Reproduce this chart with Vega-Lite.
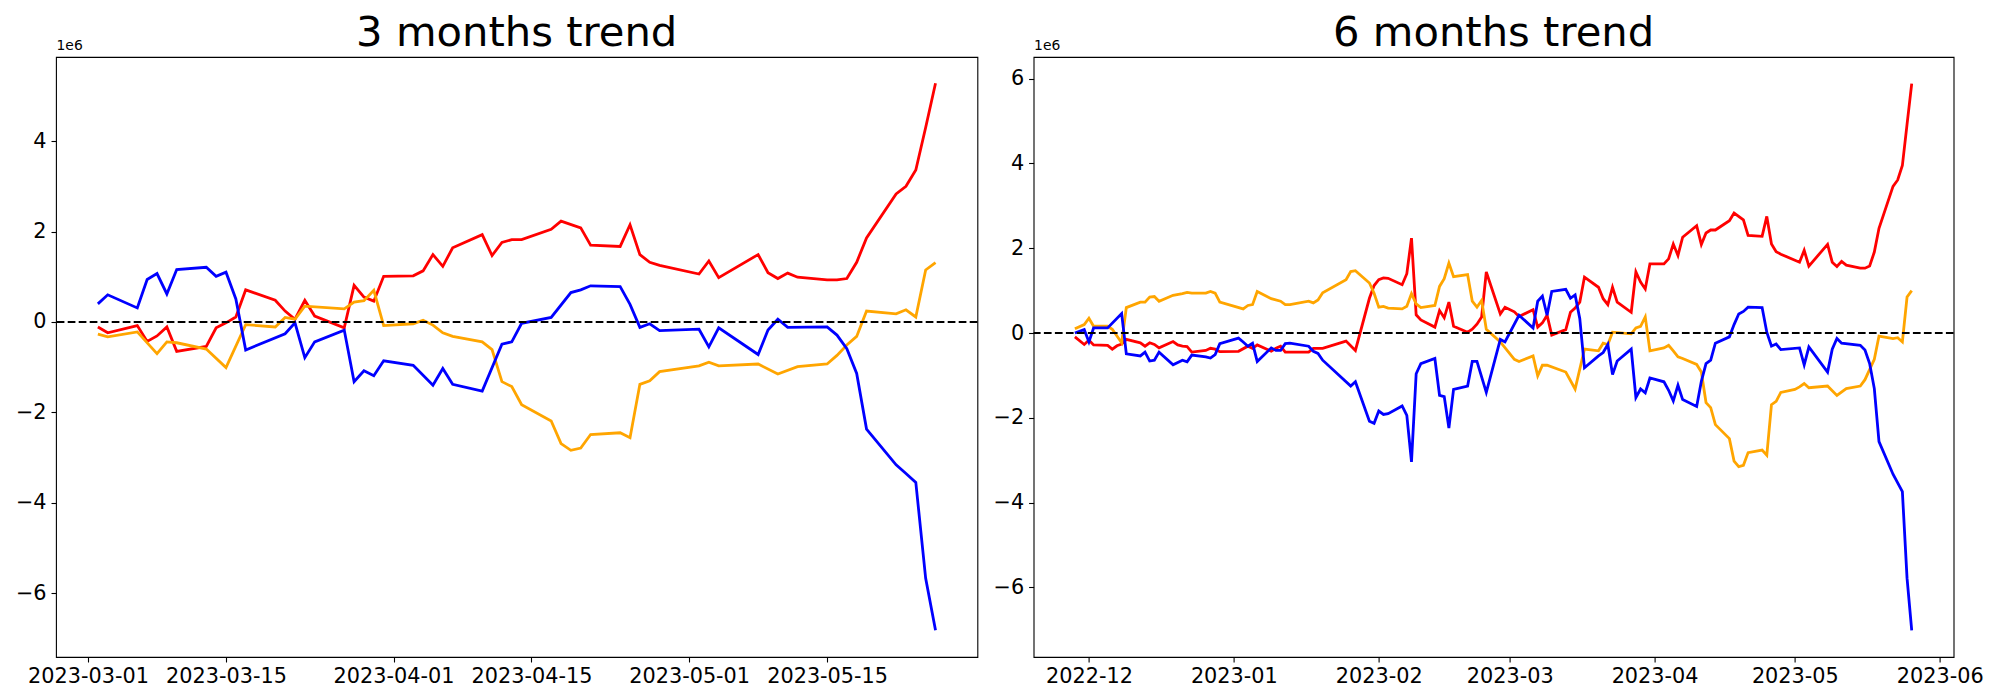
{
"$schema": "https://vega.github.io/schema/vega-lite/v6.json",
"padding": {"left": 14, "top": 12, "right": 5, "bottom": 5},
"bounds": "flush",
"spacing": 55.6,
"datasets": {
"m3": [
{"d":"2023-03-02","s":"s1","v":-110000},{"d":"2023-03-03","s":"s1","v":-240000},{"d":"2023-03-06","s":"s1","v":-80000},{"d":"2023-03-07","s":"s1","v":-430000},{"d":"2023-03-08","s":"s1","v":-310000},{"d":"2023-03-09","s":"s1","v":-110000},{"d":"2023-03-10","s":"s1","v":-650000},{"d":"2023-03-13","s":"s1","v":-540000},{"d":"2023-03-14","s":"s1","v":-130000},{"d":"2023-03-15","s":"s1","v":-20000},{"d":"2023-03-16","s":"s1","v":110000},{"d":"2023-03-17","s":"s1","v":710000},{"d":"2023-03-20","s":"s1","v":480000},{"d":"2023-03-21","s":"s1","v":240000},{"d":"2023-03-22","s":"s1","v":60000},{"d":"2023-03-23","s":"s1","v":480000},{"d":"2023-03-24","s":"s1","v":130000},{"d":"2023-03-27","s":"s1","v":-130000},{"d":"2023-03-28","s":"s1","v":810000},{"d":"2023-03-29","s":"s1","v":550000},{"d":"2023-03-30","s":"s1","v":460000},{"d":"2023-03-31","s":"s1","v":1010000},{"d":"2023-04-03","s":"s1","v":1020000},{"d":"2023-04-04","s":"s1","v":1130000},{"d":"2023-04-05","s":"s1","v":1490000},{"d":"2023-04-06","s":"s1","v":1230000},{"d":"2023-04-07","s":"s1","v":1640000},{"d":"2023-04-10","s":"s1","v":1930000},{"d":"2023-04-11","s":"s1","v":1470000},{"d":"2023-04-12","s":"s1","v":1760000},{"d":"2023-04-13","s":"s1","v":1820000},{"d":"2023-04-14","s":"s1","v":1820000},{"d":"2023-04-17","s":"s1","v":2050000},{"d":"2023-04-18","s":"s1","v":2230000},{"d":"2023-04-20","s":"s1","v":2080000},{"d":"2023-04-21","s":"s1","v":1700000},{"d":"2023-04-24","s":"s1","v":1670000},{"d":"2023-04-25","s":"s1","v":2150000},{"d":"2023-04-26","s":"s1","v":1490000},{"d":"2023-04-27","s":"s1","v":1320000},{"d":"2023-04-28","s":"s1","v":1250000},{"d":"2023-05-02","s":"s1","v":1060000},{"d":"2023-05-03","s":"s1","v":1350000},{"d":"2023-05-04","s":"s1","v":980000},{"d":"2023-05-08","s":"s1","v":1490000},{"d":"2023-05-09","s":"s1","v":1090000},{"d":"2023-05-10","s":"s1","v":960000},{"d":"2023-05-11","s":"s1","v":1080000},{"d":"2023-05-12","s":"s1","v":990000},{"d":"2023-05-15","s":"s1","v":930000},{"d":"2023-05-16","s":"s1","v":930000},{"d":"2023-05-17","s":"s1","v":960000},{"d":"2023-05-18","s":"s1","v":1320000},{"d":"2023-05-19","s":"s1","v":1860000},{"d":"2023-05-22","s":"s1","v":2830000},{"d":"2023-05-23","s":"s1","v":3000000},{"d":"2023-05-24","s":"s1","v":3360000},{"d":"2023-05-25","s":"s1","v":4300000},{"d":"2023-05-26","s":"s1","v":5280000},
{"d":"2023-03-02","s":"s2","v":-270000},{"d":"2023-03-03","s":"s2","v":-330000},{"d":"2023-03-06","s":"s2","v":-220000},{"d":"2023-03-08","s":"s2","v":-700000},{"d":"2023-03-09","s":"s2","v":-440000},{"d":"2023-03-10","s":"s2","v":-460000},{"d":"2023-03-13","s":"s2","v":-600000},{"d":"2023-03-15","s":"s2","v":-1010000},{"d":"2023-03-17","s":"s2","v":-60000},{"d":"2023-03-20","s":"s2","v":-110000},{"d":"2023-03-21","s":"s2","v":100000},{"d":"2023-03-22","s":"s2","v":60000},{"d":"2023-03-23","s":"s2","v":350000},{"d":"2023-03-27","s":"s2","v":290000},{"d":"2023-03-28","s":"s2","v":440000},{"d":"2023-03-29","s":"s2","v":470000},{"d":"2023-03-30","s":"s2","v":700000},{"d":"2023-03-31","s":"s2","v":-80000},{"d":"2023-04-03","s":"s2","v":-40000},{"d":"2023-04-04","s":"s2","v":40000},{"d":"2023-04-05","s":"s2","v":-70000},{"d":"2023-04-06","s":"s2","v":-240000},{"d":"2023-04-07","s":"s2","v":-320000},{"d":"2023-04-10","s":"s2","v":-440000},{"d":"2023-04-11","s":"s2","v":-610000},{"d":"2023-04-12","s":"s2","v":-1320000},{"d":"2023-04-13","s":"s2","v":-1430000},{"d":"2023-04-14","s":"s2","v":-1830000},{"d":"2023-04-17","s":"s2","v":-2190000},{"d":"2023-04-18","s":"s2","v":-2690000},{"d":"2023-04-19","s":"s2","v":-2840000},{"d":"2023-04-20","s":"s2","v":-2790000},{"d":"2023-04-21","s":"s2","v":-2490000},{"d":"2023-04-24","s":"s2","v":-2450000},{"d":"2023-04-25","s":"s2","v":-2560000},{"d":"2023-04-26","s":"s2","v":-1380000},{"d":"2023-04-27","s":"s2","v":-1300000},{"d":"2023-04-28","s":"s2","v":-1100000},{"d":"2023-05-02","s":"s2","v":-970000},{"d":"2023-05-03","s":"s2","v":-890000},{"d":"2023-05-04","s":"s2","v":-970000},{"d":"2023-05-08","s":"s2","v":-930000},{"d":"2023-05-10","s":"s2","v":-1150000},{"d":"2023-05-12","s":"s2","v":-990000},{"d":"2023-05-15","s":"s2","v":-930000},{"d":"2023-05-16","s":"s2","v":-740000},{"d":"2023-05-17","s":"s2","v":-510000},{"d":"2023-05-18","s":"s2","v":-320000},{"d":"2023-05-19","s":"s2","v":240000},{"d":"2023-05-22","s":"s2","v":180000},{"d":"2023-05-23","s":"s2","v":270000},{"d":"2023-05-24","s":"s2","v":110000},{"d":"2023-05-25","s":"s2","v":1150000},{"d":"2023-05-26","s":"s2","v":1310000},
{"d":"2023-03-02","s":"s3","v":400000},{"d":"2023-03-03","s":"s3","v":600000},{"d":"2023-03-06","s":"s3","v":310000},{"d":"2023-03-07","s":"s3","v":940000},{"d":"2023-03-08","s":"s3","v":1070000},{"d":"2023-03-09","s":"s3","v":620000},{"d":"2023-03-10","s":"s3","v":1160000},{"d":"2023-03-13","s":"s3","v":1210000},{"d":"2023-03-14","s":"s3","v":1010000},{"d":"2023-03-15","s":"s3","v":1100000},{"d":"2023-03-16","s":"s3","v":510000},{"d":"2023-03-17","s":"s3","v":-620000},{"d":"2023-03-21","s":"s3","v":-260000},{"d":"2023-03-22","s":"s3","v":-20000},{"d":"2023-03-23","s":"s3","v":-790000},{"d":"2023-03-24","s":"s3","v":-440000},{"d":"2023-03-27","s":"s3","v":-180000},{"d":"2023-03-28","s":"s3","v":-1320000},{"d":"2023-03-29","s":"s3","v":-1080000},{"d":"2023-03-30","s":"s3","v":-1190000},{"d":"2023-03-31","s":"s3","v":-860000},{"d":"2023-04-03","s":"s3","v":-960000},{"d":"2023-04-05","s":"s3","v":-1400000},{"d":"2023-04-06","s":"s3","v":-1030000},{"d":"2023-04-07","s":"s3","v":-1380000},{"d":"2023-04-10","s":"s3","v":-1530000},{"d":"2023-04-12","s":"s3","v":-490000},{"d":"2023-04-13","s":"s3","v":-440000},{"d":"2023-04-14","s":"s3","v":-30000},{"d":"2023-04-17","s":"s3","v":100000},{"d":"2023-04-19","s":"s3","v":650000},{"d":"2023-04-20","s":"s3","v":710000},{"d":"2023-04-21","s":"s3","v":800000},{"d":"2023-04-24","s":"s3","v":780000},{"d":"2023-04-25","s":"s3","v":390000},{"d":"2023-04-26","s":"s3","v":-120000},{"d":"2023-04-27","s":"s3","v":-40000},{"d":"2023-04-28","s":"s3","v":-190000},{"d":"2023-05-02","s":"s3","v":-160000},{"d":"2023-05-03","s":"s3","v":-550000},{"d":"2023-05-04","s":"s3","v":-130000},{"d":"2023-05-08","s":"s3","v":-720000},{"d":"2023-05-09","s":"s3","v":-180000},{"d":"2023-05-10","s":"s3","v":60000},{"d":"2023-05-11","s":"s3","v":-120000},{"d":"2023-05-15","s":"s3","v":-110000},{"d":"2023-05-16","s":"s3","v":-290000},{"d":"2023-05-17","s":"s3","v":-590000},{"d":"2023-05-18","s":"s3","v":-1140000},{"d":"2023-05-19","s":"s3","v":-2370000},{"d":"2023-05-22","s":"s3","v":-3160000},{"d":"2023-05-23","s":"s3","v":-3350000},{"d":"2023-05-24","s":"s3","v":-3550000},{"d":"2023-05-25","s":"s3","v":-5670000},{"d":"2023-05-26","s":"s3","v":-6820000}
],
"m6": [
{"d":"2022-11-28","s":"s1","v":-90000},{"d":"2022-11-30","s":"s1","v":-270000},{"d":"2022-12-01","s":"s1","v":-170000},{"d":"2022-12-02","s":"s1","v":-280000},{"d":"2022-12-05","s":"s1","v":-290000},{"d":"2022-12-06","s":"s1","v":-380000},{"d":"2022-12-07","s":"s1","v":-300000},{"d":"2022-12-08","s":"s1","v":-260000},{"d":"2022-12-09","s":"s1","v":-150000},{"d":"2022-12-12","s":"s1","v":-230000},{"d":"2022-12-13","s":"s1","v":-310000},{"d":"2022-12-14","s":"s1","v":-230000},{"d":"2022-12-15","s":"s1","v":-270000},{"d":"2022-12-16","s":"s1","v":-350000},{"d":"2022-12-19","s":"s1","v":-200000},{"d":"2022-12-20","s":"s1","v":-280000},{"d":"2022-12-21","s":"s1","v":-310000},{"d":"2022-12-22","s":"s1","v":-320000},{"d":"2022-12-23","s":"s1","v":-450000},{"d":"2022-12-26","s":"s1","v":-410000},{"d":"2022-12-27","s":"s1","v":-360000},{"d":"2022-12-28","s":"s1","v":-380000},{"d":"2022-12-29","s":"s1","v":-440000},{"d":"2023-01-02","s":"s1","v":-430000},{"d":"2023-01-04","s":"s1","v":-310000},{"d":"2023-01-05","s":"s1","v":-360000},{"d":"2023-01-06","s":"s1","v":-280000},{"d":"2023-01-09","s":"s1","v":-430000},{"d":"2023-01-10","s":"s1","v":-360000},{"d":"2023-01-11","s":"s1","v":-310000},{"d":"2023-01-12","s":"s1","v":-450000},{"d":"2023-01-17","s":"s1","v":-450000},{"d":"2023-01-18","s":"s1","v":-360000},{"d":"2023-01-20","s":"s1","v":-360000},{"d":"2023-01-25","s":"s1","v":-190000},{"d":"2023-01-27","s":"s1","v":-410000},{"d":"2023-01-30","s":"s1","v":820000},{"d":"2023-01-31","s":"s1","v":1120000},{"d":"2023-02-01","s":"s1","v":1260000},{"d":"2023-02-02","s":"s1","v":1300000},{"d":"2023-02-03","s":"s1","v":1290000},{"d":"2023-02-06","s":"s1","v":1140000},{"d":"2023-02-07","s":"s1","v":1400000},{"d":"2023-02-08","s":"s1","v":2240000},{"d":"2023-02-09","s":"s1","v":430000},{"d":"2023-02-10","s":"s1","v":310000},{"d":"2023-02-13","s":"s1","v":140000},{"d":"2023-02-14","s":"s1","v":530000},{"d":"2023-02-15","s":"s1","v":360000},{"d":"2023-02-16","s":"s1","v":730000},{"d":"2023-02-17","s":"s1","v":160000},{"d":"2023-02-20","s":"s1","v":20000},{"d":"2023-02-21","s":"s1","v":90000},{"d":"2023-02-22","s":"s1","v":210000},{"d":"2023-02-23","s":"s1","v":380000},{"d":"2023-02-24","s":"s1","v":1440000},{"d":"2023-02-27","s":"s1","v":450000},{"d":"2023-02-28","s":"s1","v":610000},{"d":"2023-03-02","s":"s1","v":500000},{"d":"2023-03-03","s":"s1","v":390000},{"d":"2023-03-06","s":"s1","v":550000},{"d":"2023-03-07","s":"s1","v":140000},{"d":"2023-03-08","s":"s1","v":240000},{"d":"2023-03-09","s":"s1","v":420000},{"d":"2023-03-10","s":"s1","v":-50000},{"d":"2023-03-13","s":"s1","v":80000},{"d":"2023-03-14","s":"s1","v":490000},{"d":"2023-03-15","s":"s1","v":590000},{"d":"2023-03-16","s":"s1","v":730000},{"d":"2023-03-17","s":"s1","v":1320000},{"d":"2023-03-20","s":"s1","v":1080000},{"d":"2023-03-21","s":"s1","v":810000},{"d":"2023-03-22","s":"s1","v":670000},{"d":"2023-03-23","s":"s1","v":1080000},{"d":"2023-03-24","s":"s1","v":730000},{"d":"2023-03-27","s":"s1","v":490000},{"d":"2023-03-28","s":"s1","v":1440000},{"d":"2023-03-29","s":"s1","v":1200000},{"d":"2023-03-30","s":"s1","v":1040000},{"d":"2023-03-31","s":"s1","v":1630000},{"d":"2023-04-03","s":"s1","v":1630000},{"d":"2023-04-04","s":"s1","v":1750000},{"d":"2023-04-05","s":"s1","v":2100000},{"d":"2023-04-06","s":"s1","v":1830000},{"d":"2023-04-07","s":"s1","v":2260000},{"d":"2023-04-10","s":"s1","v":2530000},{"d":"2023-04-11","s":"s1","v":2090000},{"d":"2023-04-12","s":"s1","v":2360000},{"d":"2023-04-13","s":"s1","v":2430000},{"d":"2023-04-14","s":"s1","v":2430000},{"d":"2023-04-17","s":"s1","v":2650000},{"d":"2023-04-18","s":"s1","v":2830000},{"d":"2023-04-20","s":"s1","v":2670000},{"d":"2023-04-21","s":"s1","v":2300000},{"d":"2023-04-24","s":"s1","v":2280000},{"d":"2023-04-25","s":"s1","v":2750000},{"d":"2023-04-26","s":"s1","v":2100000},{"d":"2023-04-27","s":"s1","v":1920000},{"d":"2023-04-28","s":"s1","v":1860000},{"d":"2023-05-02","s":"s1","v":1670000},{"d":"2023-05-03","s":"s1","v":1950000},{"d":"2023-05-04","s":"s1","v":1580000},{"d":"2023-05-08","s":"s1","v":2090000},{"d":"2023-05-09","s":"s1","v":1670000},{"d":"2023-05-10","s":"s1","v":1570000},{"d":"2023-05-11","s":"s1","v":1690000},{"d":"2023-05-12","s":"s1","v":1600000},{"d":"2023-05-15","s":"s1","v":1530000},{"d":"2023-05-16","s":"s1","v":1530000},{"d":"2023-05-17","s":"s1","v":1580000},{"d":"2023-05-18","s":"s1","v":1910000},{"d":"2023-05-19","s":"s1","v":2470000},{"d":"2023-05-22","s":"s1","v":3460000},{"d":"2023-05-23","s":"s1","v":3610000},{"d":"2023-05-24","s":"s1","v":3950000},{"d":"2023-05-25","s":"s1","v":4920000},{"d":"2023-05-26","s":"s1","v":5880000},
{"d":"2022-11-28","s":"s2","v":100000},{"d":"2022-11-30","s":"s2","v":200000},{"d":"2022-12-01","s":"s2","v":350000},{"d":"2022-12-02","s":"s2","v":160000},{"d":"2022-12-05","s":"s2","v":160000},{"d":"2022-12-06","s":"s2","v":90000},{"d":"2022-12-08","s":"s2","v":-230000},{"d":"2022-12-09","s":"s2","v":600000},{"d":"2022-12-12","s":"s2","v":730000},{"d":"2022-12-13","s":"s2","v":730000},{"d":"2022-12-14","s":"s2","v":850000},{"d":"2022-12-15","s":"s2","v":860000},{"d":"2022-12-16","s":"s2","v":750000},{"d":"2022-12-19","s":"s2","v":890000},{"d":"2022-12-21","s":"s2","v":930000},{"d":"2022-12-22","s":"s2","v":960000},{"d":"2022-12-23","s":"s2","v":940000},{"d":"2022-12-26","s":"s2","v":940000},{"d":"2022-12-27","s":"s2","v":980000},{"d":"2022-12-28","s":"s2","v":940000},{"d":"2022-12-29","s":"s2","v":730000},{"d":"2023-01-03","s":"s2","v":570000},{"d":"2023-01-04","s":"s2","v":650000},{"d":"2023-01-05","s":"s2","v":670000},{"d":"2023-01-06","s":"s2","v":980000},{"d":"2023-01-09","s":"s2","v":810000},{"d":"2023-01-11","s":"s2","v":750000},{"d":"2023-01-12","s":"s2","v":670000},{"d":"2023-01-13","s":"s2","v":670000},{"d":"2023-01-17","s":"s2","v":750000},{"d":"2023-01-18","s":"s2","v":710000},{"d":"2023-01-19","s":"s2","v":780000},{"d":"2023-01-20","s":"s2","v":950000},{"d":"2023-01-25","s":"s2","v":1260000},{"d":"2023-01-26","s":"s2","v":1450000},{"d":"2023-01-27","s":"s2","v":1470000},{"d":"2023-01-30","s":"s2","v":1180000},{"d":"2023-01-31","s":"s2","v":940000},{"d":"2023-02-01","s":"s2","v":610000},{"d":"2023-02-02","s":"s2","v":630000},{"d":"2023-02-03","s":"s2","v":590000},{"d":"2023-02-06","s":"s2","v":570000},{"d":"2023-02-07","s":"s2","v":630000},{"d":"2023-02-08","s":"s2","v":930000},{"d":"2023-02-09","s":"s2","v":690000},{"d":"2023-02-10","s":"s2","v":600000},{"d":"2023-02-13","s":"s2","v":650000},{"d":"2023-02-14","s":"s2","v":1100000},{"d":"2023-02-15","s":"s2","v":1280000},{"d":"2023-02-16","s":"s2","v":1650000},{"d":"2023-02-17","s":"s2","v":1330000},{"d":"2023-02-20","s":"s2","v":1380000},{"d":"2023-02-21","s":"s2","v":750000},{"d":"2023-02-22","s":"s2","v":610000},{"d":"2023-02-23","s":"s2","v":770000},{"d":"2023-02-24","s":"s2","v":90000},{"d":"2023-02-27","s":"s2","v":-210000},{"d":"2023-03-02","s":"s2","v":-620000},{"d":"2023-03-03","s":"s2","v":-670000},{"d":"2023-03-06","s":"s2","v":-540000},{"d":"2023-03-07","s":"s2","v":-1010000},{"d":"2023-03-08","s":"s2","v":-760000},{"d":"2023-03-09","s":"s2","v":-760000},{"d":"2023-03-13","s":"s2","v":-920000},{"d":"2023-03-15","s":"s2","v":-1320000},{"d":"2023-03-17","s":"s2","v":-380000},{"d":"2023-03-20","s":"s2","v":-420000},{"d":"2023-03-21","s":"s2","v":-240000},{"d":"2023-03-22","s":"s2","v":-270000},{"d":"2023-03-23","s":"s2","v":20000},{"d":"2023-03-27","s":"s2","v":-20000},{"d":"2023-03-28","s":"s2","v":120000},{"d":"2023-03-29","s":"s2","v":160000},{"d":"2023-03-30","s":"s2","v":380000},{"d":"2023-03-31","s":"s2","v":-420000},{"d":"2023-04-03","s":"s2","v":-350000},{"d":"2023-04-04","s":"s2","v":-290000},{"d":"2023-04-05","s":"s2","v":-420000},{"d":"2023-04-06","s":"s2","v":-560000},{"d":"2023-04-07","s":"s2","v":-600000},{"d":"2023-04-10","s":"s2","v":-740000},{"d":"2023-04-11","s":"s2","v":-920000},{"d":"2023-04-12","s":"s2","v":-1640000},{"d":"2023-04-13","s":"s2","v":-1760000},{"d":"2023-04-14","s":"s2","v":-2160000},{"d":"2023-04-17","s":"s2","v":-2490000},{"d":"2023-04-18","s":"s2","v":-3020000},{"d":"2023-04-19","s":"s2","v":-3150000},{"d":"2023-04-20","s":"s2","v":-3120000},{"d":"2023-04-21","s":"s2","v":-2820000},{"d":"2023-04-24","s":"s2","v":-2760000},{"d":"2023-04-25","s":"s2","v":-2880000},{"d":"2023-04-26","s":"s2","v":-1690000},{"d":"2023-04-27","s":"s2","v":-1610000},{"d":"2023-04-28","s":"s2","v":-1400000},{"d":"2023-05-01","s":"s2","v":-1330000},{"d":"2023-05-02","s":"s2","v":-1270000},{"d":"2023-05-03","s":"s2","v":-1190000},{"d":"2023-05-04","s":"s2","v":-1290000},{"d":"2023-05-08","s":"s2","v":-1250000},{"d":"2023-05-10","s":"s2","v":-1470000},{"d":"2023-05-12","s":"s2","v":-1310000},{"d":"2023-05-15","s":"s2","v":-1250000},{"d":"2023-05-16","s":"s2","v":-1100000},{"d":"2023-05-18","s":"s2","v":-620000},{"d":"2023-05-19","s":"s2","v":-70000},{"d":"2023-05-22","s":"s2","v":-130000},{"d":"2023-05-23","s":"s2","v":-110000},{"d":"2023-05-24","s":"s2","v":-210000},{"d":"2023-05-25","s":"s2","v":850000},{"d":"2023-05-26","s":"s2","v":1000000},
{"d":"2022-11-28","s":"s3","v":0},{"d":"2022-11-30","s":"s3","v":80000},{"d":"2022-12-01","s":"s3","v":-210000},{"d":"2022-12-02","s":"s3","v":120000},{"d":"2022-12-05","s":"s3","v":120000},{"d":"2022-12-08","s":"s3","v":460000},{"d":"2022-12-09","s":"s3","v":-490000},{"d":"2022-12-12","s":"s3","v":-540000},{"d":"2022-12-13","s":"s3","v":-450000},{"d":"2022-12-14","s":"s3","v":-660000},{"d":"2022-12-15","s":"s3","v":-640000},{"d":"2022-12-16","s":"s3","v":-450000},{"d":"2022-12-19","s":"s3","v":-750000},{"d":"2022-12-21","s":"s3","v":-640000},{"d":"2022-12-22","s":"s3","v":-680000},{"d":"2022-12-23","s":"s3","v":-520000},{"d":"2022-12-26","s":"s3","v":-560000},{"d":"2022-12-27","s":"s3","v":-590000},{"d":"2022-12-28","s":"s3","v":-510000},{"d":"2022-12-29","s":"s3","v":-250000},{"d":"2023-01-02","s":"s3","v":-120000},{"d":"2023-01-03","s":"s3","v":-210000},{"d":"2023-01-04","s":"s3","v":-310000},{"d":"2023-01-05","s":"s3","v":-240000},{"d":"2023-01-06","s":"s3","v":-670000},{"d":"2023-01-09","s":"s3","v":-350000},{"d":"2023-01-10","s":"s3","v":-410000},{"d":"2023-01-11","s":"s3","v":-410000},{"d":"2023-01-12","s":"s3","v":-250000},{"d":"2023-01-13","s":"s3","v":-240000},{"d":"2023-01-17","s":"s3","v":-310000},{"d":"2023-01-18","s":"s3","v":-430000},{"d":"2023-01-19","s":"s3","v":-480000},{"d":"2023-01-20","s":"s3","v":-640000},{"d":"2023-01-26","s":"s3","v":-1250000},{"d":"2023-01-27","s":"s3","v":-1150000},{"d":"2023-01-30","s":"s3","v":-2080000},{"d":"2023-01-31","s":"s3","v":-2130000},{"d":"2023-02-01","s":"s3","v":-1840000},{"d":"2023-02-02","s":"s3","v":-1920000},{"d":"2023-02-03","s":"s3","v":-1900000},{"d":"2023-02-06","s":"s3","v":-1720000},{"d":"2023-02-07","s":"s3","v":-1940000},{"d":"2023-02-08","s":"s3","v":-3040000},{"d":"2023-02-09","s":"s3","v":-960000},{"d":"2023-02-10","s":"s3","v":-720000},{"d":"2023-02-13","s":"s3","v":-600000},{"d":"2023-02-14","s":"s3","v":-1470000},{"d":"2023-02-15","s":"s3","v":-1500000},{"d":"2023-02-16","s":"s3","v":-2240000},{"d":"2023-02-17","s":"s3","v":-1330000},{"d":"2023-02-20","s":"s3","v":-1250000},{"d":"2023-02-21","s":"s3","v":-670000},{"d":"2023-02-22","s":"s3","v":-670000},{"d":"2023-02-24","s":"s3","v":-1400000},{"d":"2023-02-27","s":"s3","v":-150000},{"d":"2023-02-28","s":"s3","v":-210000},{"d":"2023-03-03","s":"s3","v":420000},{"d":"2023-03-06","s":"s3","v":120000},{"d":"2023-03-07","s":"s3","v":750000},{"d":"2023-03-08","s":"s3","v":870000},{"d":"2023-03-09","s":"s3","v":420000},{"d":"2023-03-10","s":"s3","v":980000},{"d":"2023-03-13","s":"s3","v":1030000},{"d":"2023-03-14","s":"s3","v":820000},{"d":"2023-03-15","s":"s3","v":900000},{"d":"2023-03-16","s":"s3","v":340000},{"d":"2023-03-17","s":"s3","v":-820000},{"d":"2023-03-20","s":"s3","v":-540000},{"d":"2023-03-21","s":"s3","v":-460000},{"d":"2023-03-22","s":"s3","v":-270000},{"d":"2023-03-23","s":"s3","v":-980000},{"d":"2023-03-24","s":"s3","v":-660000},{"d":"2023-03-27","s":"s3","v":-380000},{"d":"2023-03-28","s":"s3","v":-1520000},{"d":"2023-03-29","s":"s3","v":-1320000},{"d":"2023-03-30","s":"s3","v":-1410000},{"d":"2023-03-31","s":"s3","v":-1060000},{"d":"2023-04-03","s":"s3","v":-1150000},{"d":"2023-04-04","s":"s3","v":-1350000},{"d":"2023-04-05","s":"s3","v":-1600000},{"d":"2023-04-06","s":"s3","v":-1230000},{"d":"2023-04-07","s":"s3","v":-1570000},{"d":"2023-04-10","s":"s3","v":-1730000},{"d":"2023-04-11","s":"s3","v":-1140000},{"d":"2023-04-12","s":"s3","v":-720000},{"d":"2023-04-13","s":"s3","v":-640000},{"d":"2023-04-14","s":"s3","v":-240000},{"d":"2023-04-17","s":"s3","v":-90000},{"d":"2023-04-18","s":"s3","v":200000},{"d":"2023-04-19","s":"s3","v":450000},{"d":"2023-04-20","s":"s3","v":510000},{"d":"2023-04-21","s":"s3","v":610000},{"d":"2023-04-24","s":"s3","v":600000},{"d":"2023-04-25","s":"s3","v":20000},{"d":"2023-04-26","s":"s3","v":-310000},{"d":"2023-04-27","s":"s3","v":-260000},{"d":"2023-04-28","s":"s3","v":-390000},{"d":"2023-05-02","s":"s3","v":-350000},{"d":"2023-05-03","s":"s3","v":-750000},{"d":"2023-05-04","s":"s3","v":-330000},{"d":"2023-05-08","s":"s3","v":-920000},{"d":"2023-05-09","s":"s3","v":-380000},{"d":"2023-05-10","s":"s3","v":-130000},{"d":"2023-05-11","s":"s3","v":-240000},{"d":"2023-05-15","s":"s3","v":-290000},{"d":"2023-05-16","s":"s3","v":-400000},{"d":"2023-05-17","s":"s3","v":-720000},{"d":"2023-05-18","s":"s3","v":-1310000},{"d":"2023-05-19","s":"s3","v":-2560000},{"d":"2023-05-22","s":"s3","v":-3330000},{"d":"2023-05-24","s":"s3","v":-3740000},{"d":"2023-05-25","s":"s3","v":-5780000},{"d":"2023-05-26","s":"s3","v":-7010000}
]
},
"hconcat": [
{
"width": 921.4, "height": 600,
"title": {"text": "3 months trend", "offset": -17},
"layer": [
{"data": {"name": "m3"},
 "mark": {"type": "line", "strokeWidth": 2.8},
 "encoding": {
  "x": {"field": "d", "type": "temporal", "scale": {"type": "utc", "domain": [{"year": 2023, "month": 2, "date": 25, "hours": 18, "utc": true}, {"year": 2023, "month": 5, "date": 30, "hours": 6, "utc": true}], "nice": false},
   "axis": {"format": "%Y-%m-%d", "labelAlign": "center", "labelFlush": false, "values": [{"year": 2023, "month": 3, "date": 1, "utc": true}, {"year": 2023, "month": 3, "date": 15, "utc": true}, {"year": 2023, "month": 4, "date": 1, "utc": true}, {"year": 2023, "month": 4, "date": 15, "utc": true}, {"year": 2023, "month": 5, "date": 1, "utc": true}, {"year": 2023, "month": 5, "date": 15, "utc": true}]}},
  "y": {"field": "v", "type": "quantitative", "scale": {"domain": [-7410000, 5860000], "nice": false, "zero": false},
   "axis": {"title": "1e6", "values": [-6000000, -4000000, -2000000, 0, 2000000, 4000000], "labelExpr": "format(datum.value / 1000000, 'd')"}},
  "color": {"field": "s", "type": "nominal", "scale": {"domain": ["s1", "s2", "s3"], "range": ["#ff0000", "#ffa500", "#0000ff"]}, "legend": null}
 }},
{"data": {"values": [{}]},
 "mark": {"type": "rule", "color": "black", "strokeWidth": 2.1, "strokeDash": [7.7, 3.3]},
 "encoding": {"y": {"datum": 0}}}
]
},
{
"width": 920, "height": 600,
"title": {"text": "6 months trend", "offset": -17},
"layer": [
{"data": {"name": "m6"},
 "mark": {"type": "line", "strokeWidth": 2.8},
 "encoding": {
  "x": {"field": "d", "type": "temporal", "scale": {"type": "utc", "domain": [{"year": 2022, "month": 11, "date": 19, "hours": 4, "utc": true}, {"year": 2023, "month": 6, "date": 3, "hours": 23, "utc": true}], "nice": false},
   "axis": {"format": "%Y-%m", "labelAlign": "center", "labelFlush": false, "values": [{"year": 2022, "month": 12, "date": 1, "utc": true}, {"year": 2023, "month": 1, "date": 1, "utc": true}, {"year": 2023, "month": 2, "date": 1, "utc": true}, {"year": 2023, "month": 3, "date": 1, "utc": true}, {"year": 2023, "month": 4, "date": 1, "utc": true}, {"year": 2023, "month": 5, "date": 1, "utc": true}, {"year": 2023, "month": 6, "date": 1, "utc": true}]}},
  "y": {"field": "v", "type": "quantitative", "scale": {"domain": [-7640000, 6510000], "nice": false, "zero": false},
   "axis": {"title": "1e6", "values": [-6000000, -4000000, -2000000, 0, 2000000, 4000000, 6000000], "labelExpr": "format(datum.value / 1000000, 'd')"}},
  "color": {"field": "s", "type": "nominal", "scale": {"domain": ["s1", "s2", "s3"], "range": ["#ff0000", "#ffa500", "#0000ff"]}, "legend": null}
 }},
{"data": {"values": [{}]},
 "mark": {"type": "rule", "color": "black", "strokeWidth": 2.1, "strokeDash": [7.7, 3.3]},
 "encoding": {"y": {"datum": 0}}}
]
}
],
"resolve": {"scale": {"x": "independent", "y": "independent", "color": "shared"}},
"config": {
 "font": "DejaVu Sans",
 "background": "white",
 "view": {"stroke": "black", "strokeWidth": 1.1},
 "title": {"fontSize": 41.7, "fontWeight": "normal", "font": "DejaVu Sans", "color": "black", "anchor": "middle", "baseline": "alphabetic"},
 "axis": {"grid": false, "domain": false, "tickColor": "black", "tickSize": 5, "tickWidth": 1.1, "labelFont": "DejaVu Sans", "labelFontSize": 20.8, "labelColor": "black", "labelPadding": 4.9, "labelFlush": false, "labelOverlap": false, "labelBound": false},
 "axisX": {"title": null},
 "axisY": {"titleAngle": 0, "titleAlign": "left", "titleBaseline": "bottom", "titleX": 0, "titleY": -5, "titleFontSize": 13.9, "titleFontWeight": "normal", "titleFont": "DejaVu Sans", "titleColor": "black"}
}
}
